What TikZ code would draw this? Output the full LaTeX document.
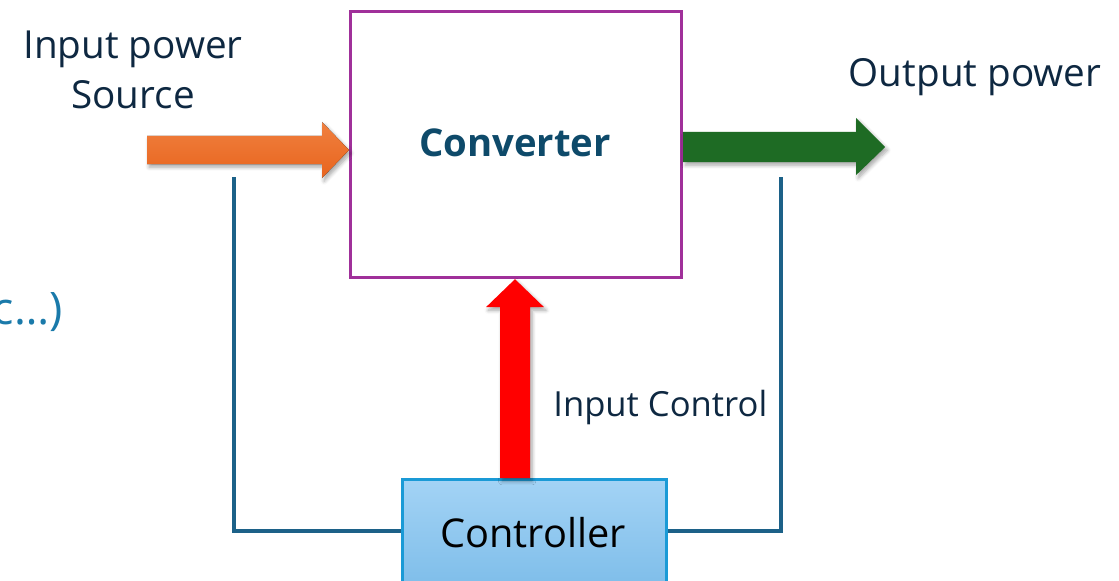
\documentclass[tikz,border=0pt]{standalone}
\usepackage{fontspec}
\setmainfont{Open Sans}
\usetikzlibrary{shadows.blur}
\definecolor{txtdark}{HTML}{0E2841}
\definecolor{convtxt}{HTML}{0E4A6A}
\definecolor{convedge}{HTML}{A0309A}
\definecolor{loopline}{HTML}{1C6188}
\definecolor{ctrlfillA}{HTML}{A3D3F5}
\definecolor{ctrlfillB}{HTML}{7ABBE8}
\definecolor{ctrledge}{HTML}{1A9AD6}
\definecolor{orangeA}{HTML}{F0803F}
\definecolor{orangeB}{HTML}{E8641E}
\definecolor{greenarrow}{HTML}{1E6B24}
\definecolor{noteblue}{HTML}{1A7AAA}
\tikzset{
  lbl/.style={font=\fontsize{22}{28.3}\selectfont, text=txtdark, inner sep=0pt},
  loop/.style={draw=loopline, line width=2pt},
  bigarrow/.style={blur shadow={shadow xshift=1.2pt, shadow yshift=-1.8pt, shadow blur steps=6, shadow opacity=35}},
}
\begin{document}
\begin{tikzpicture}[x=0.02cm, y=-0.02cm]
\useasboundingbox (0,0) rectangle (1119,581);

% converter block
\node[draw=convedge, line width=1.8pt, minimum width=331*0.02cm, minimum height=266*0.02cm,
      inner sep=0pt, anchor=north west] (conv) at (349,10) {};
\node[font=\bfseries\fontsize{21.8}{26}\selectfont, text=convtxt, inner sep=0pt] (convlbl) at (515,143) {Converter};

% controller block
\node[draw=ctrledge, line width=1.6pt, top color=ctrlfillA, bottom color=ctrlfillB,
      minimum width=264*0.02cm, minimum height=120*0.02cm, inner sep=0pt, anchor=north west] (ctrlbox) at (401,478) {};
\node[font=\fontsize{22.6}{26}\selectfont, text=black, inner sep=0pt] (ctrllbl) at (533,533) {Controller};

% feedback loop lines
\coordinate (lt) at (234,177);
\coordinate (lb) at (234,531);
\coordinate (rt) at (781,177);
\coordinate (rb) at (781,531);
\draw[loop] (lt) -- (lb) -- (ctrlbox.west |- lb);
\draw[loop] (rt) -- (rb) -- (ctrlbox.east |- rb);

% input power arrow (orange)
\coordinate (inTip) at (conv.west |- 0,150);
\fill[bigarrow, top color=orangeA, bottom color=orangeB]
  ($(inTip)+(-202,-14)$) -- ($(inTip)+(-27,-14)$) -- ($(inTip)+(-27,-28)$) -- (inTip)
  -- ($(inTip)+(-27,28)$) -- ($(inTip)+(-27,14)$) -- ($(inTip)+(-202,14)$) -- cycle;

% output power arrow (green)
\coordinate (outBase) at (conv.east |- 0,147);
\fill[bigarrow, greenarrow]
  ($(outBase)+(0,-15)$) -- ($(outBase)+(173,-15)$) -- ($(outBase)+(173,-29)$) -- ($(outBase)+(202,0)$)
  -- ($(outBase)+(173,28)$) -- ($(outBase)+(173,15)$) -- ($(outBase)+(0,15)$) -- cycle;

% control arrow (red)
\coordinate (ctlTip) at (conv.south -| 515,0);
\coordinate (ctlBase) at (ctrlbox.north -| 515,0);
\fill[bigarrow, red]
  ($(ctlBase)+(-15,0)$) -- ($(ctlTip)+(-15,28)$) -- ($(ctlTip)+(-29,28)$) -- (ctlTip)
  -- ($(ctlTip)+(29,28)$) -- ($(ctlTip)+(15,28)$) -- ($(ctlBase)+(15,0)$) -- cycle;

% labels
\node[lbl, align=center] (inlbl) at (133,70) {Input power\\Source};
\node[lbl] (outlbl) at (975,77) {Output power};
\node[lbl, font=\fontsize{19.7}{24}\selectfont, anchor=west] (ctlin) at (553,408) {Input Control};
\node[lbl, text=noteblue, font=\fontsize{25.5}{30}\selectfont, anchor=east] (note) at (63,312) {c…)};
\end{tikzpicture}
\end{document}
